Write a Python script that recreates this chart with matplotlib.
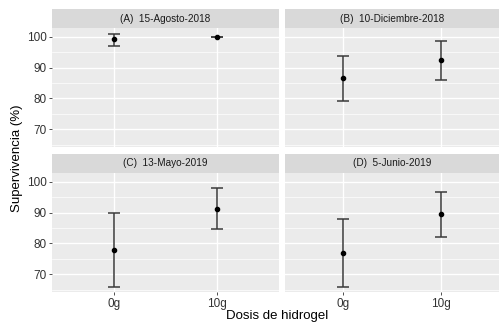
import matplotlib
matplotlib.use("Agg")
import matplotlib.pyplot as plt
from matplotlib.patches import Rectangle

plt.rcParams['font.family'] = ['Liberation Sans', 'DejaVu Sans']

# Data
paneles = ["(A)  15-Agosto-2018", "(B)  10-Diciembre-2018",
           "(C)  13-Mayo-2019", "(D)  5-Junio-2019"]
dosis = ["0g", "10g"]
media = [[99.1, 100.0], [86.6, 92.3], [77.9, 91.3], [77.0, 89.5]]
inferior = [[97.1, 100.0], [79.1, 86.0], [65.9, 84.7], [65.9, 82.1]]
superior = [[101.0, 100.0], [93.9, 98.7], [89.8, 97.9], [87.8, 96.7]]
yticks = [70, 80, 90, 100]

W, H = 501, 323
fig = plt.figure(figsize=(W / 100, H / 100), dpi=100)

# panel boxes in pixels: (left, right, top, bottom)
cols = [(52, 279), (285, 499)]
rows = [(28, 147), (173, 292)]
strip_h = 19

for i, titulo in enumerate(paneles):
    r, c = divmod(i, 2)
    x0, x1 = cols[c]
    y0, y1 = rows[r]
    ax = fig.add_axes([x0 / W, 1 - y1 / H, (x1 - x0) / W, (y1 - y0) / H])
    ax.set_facecolor("#EBEBEB")
    for s in ax.spines.values():
        s.set_visible(False)
    ax.set_xlim(0.4, 2.6)
    ax.set_ylim(64.3, 102.8)
    ax.set_yticks(yticks)
    ax.set_yticks([65, 75, 85, 95], minor=True)
    ax.set_xticks([1, 2])
    ax.grid(True, which="major", color="white", linewidth=1.0)
    ax.grid(True, which="minor", axis="y", color="white", linewidth=0.5)
    ax.set_axisbelow(True)
    ax.tick_params(which="minor", length=0)
    ax.tick_params(which="major", length=2.5, width=0.6, color="#333333",
                   labelsize=8.5, labelcolor="#333333", pad=1.5)
    if c == 0:
        ax.set_yticklabels([str(v) for v in yticks])
    else:
        ax.tick_params(axis="y", left=False, labelleft=False)
    if r == 1:
        ax.set_xticklabels(dosis)
    else:
        ax.tick_params(axis="x", bottom=False, labelbottom=False)

    xs = [1, 2]
    m = media[i]
    err_lo = [m[k] - inferior[i][k] for k in range(2)]
    err_hi = [superior[i][k] - m[k] for k in range(2)]
    ax.errorbar(xs, m, yerr=[err_lo, err_hi], fmt="none", ecolor="#3A3A3A",
                elinewidth=1.1, capsize=4.5, capthick=1.1, zorder=3)
    ax.plot(xs, m, "o", color="black", markersize=3, zorder=4)

    # strip
    sax = fig.add_axes([x0 / W, 1 - y0 / H, (x1 - x0) / W, strip_h / H])
    sax.set_axis_off()
    sax.add_patch(Rectangle((0, 0), 1, 1, transform=sax.transAxes,
                            facecolor="#D9D9D9", edgecolor="none"))
    sax.text(0.5, 0.5, titulo, ha="center", va="center", fontsize=7.2,
             color="#1A1A1A", transform=sax.transAxes)

fig.text(17 / W, 1 - 158 / H, "Supervivencia (%)", rotation=90,
         ha="center", va="center", fontsize=9.5)
fig.text(277 / W, 1 - 316 / H, "Dosis de hidrogel", ha="center",
         va="center", fontsize=9.5)

fig.savefig("out.png", dpi=100)
